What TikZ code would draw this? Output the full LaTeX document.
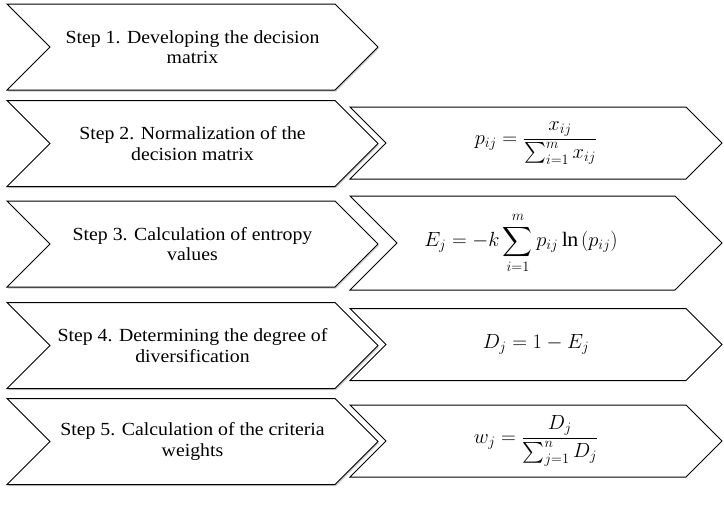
\documentclass[tikz,border=0pt]{standalone}
\usepackage{fix-cm}
\usepackage{amsmath}
\usepackage{fontspec}
\setmainfont{Liberation Serif}[FakeStretch=1.07]
\usetikzlibrary{shapes.symbols, shadows}

\begin{document}
\begin{tikzpicture}[x=1pt, y=-1pt,
    stepbox/.style={signal, signal to=east, signal from=west, signal pointer angle=90,
      draw=black, fill=white, line width=1pt, minimum width=371pt, minimum height=86pt,
      align=center, font=\fontsize{18.5}{20.5}\selectfont,
      drop shadow={shadow xshift=1pt, shadow yshift=-1.5pt, opacity=0.4}},
    formbox/.style={signal, signal to=east, signal from=west, signal pointer angle=90,
      draw=black, fill=white, line width=1pt, minimum width=372pt, minimum height=72pt,
      font=\fontsize{20.5}{23}\selectfont}]

  \useasboundingbox (0,0) rectangle (724,515);

  % Steps
  \node[stepbox] (s1) at (192.5,47) {Step 1. Developing the decision\\matrix};
  \node[stepbox] (s2) at (192.5,143.5) {Step 2. Normalization of the\\decision matrix};
  \node[stepbox] (s3) at (192.5,244) {Step 3. Calculation of entropy\\values};
  \node[stepbox] (s4) at (192.5,345.5) {Step 4. Determining the degree of\\diversification};
  \node[stepbox] (s5) at (192.5,441.5) {Step 5. Calculation of the criteria\\weights};

  % Formulas
  \node[formbox] (f2) at (536,143) {$p_{ij} = \dfrac{x_{ij}}{\sum_{i=1}^{m} x_{ij}}$};
  \node[formbox, minimum height=94pt] (f3) at (536,243) {$\displaystyle E_j = -k\sum_{i=1}^{m} p_{ij}\ln\left(p_{ij}\right)$\hspace*{30pt}};
  \node[formbox] (f4) at (536,344.5) {$D_j = 1 - E_j$};
  \node[formbox] (f5) at (536,441) {$w_j = \dfrac{D_j}{\sum_{j=1}^{n} D_j}$};

\end{tikzpicture}
\end{document}
